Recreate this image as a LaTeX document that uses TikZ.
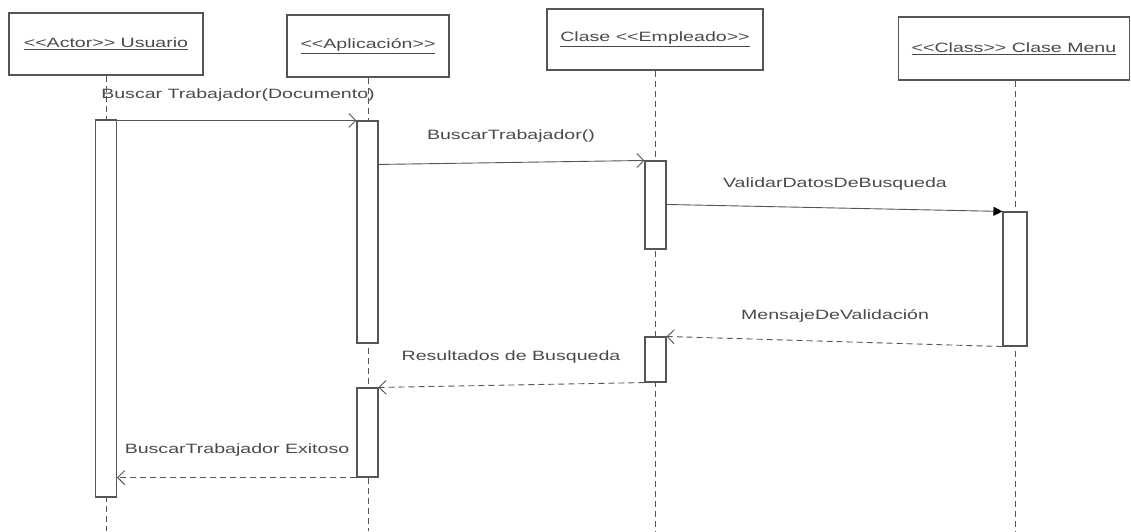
\documentclass[tikz,border=0pt]{standalone}
\usepackage{fontspec}
\setmainfont{Liberation Sans}[Ligatures=TeXOff]
\usetikzlibrary{arrows.meta}
\definecolor{LineGray}{HTML}{555555}
\definecolor{TextGray}{HTML}{4A4A4A}
\newcommand{\wtxt}[1]{\scalebox{1.45}[1]{#1}}

\begin{document}
\begin{tikzpicture}
   [x=1pt,y=1pt,
   objbox/.style={draw=LineGray,line width=1.3pt,fill=white,inner sep=0pt},
   actbox/.style={draw=LineGray,line width=1.1pt,fill=white,inner sep=0pt,minimum width=21pt},
   lifeline/.style={LineGray,line width=0.9pt,dash pattern=on 6pt off 4pt},
   call/.style={-{Straight Barb[length=7pt,width=14pt]},LineGray,line width=0.9pt},
   sync/.style={-{Triangle[length=9pt,width=9pt,color=black]},LineGray,line width=0.9pt},
   reply/.style={-{Straight Barb[length=7pt,width=14pt]},LineGray,line width=0.9pt,dash pattern=on 6pt off 4pt},
   msg/.style={text=TextGray,font=\fontsize{13.5}{16}\selectfont,inner sep=0pt}]
    \useasboundingbox (0,0) rectangle (1131,-531);
    % objetos
    \node[objbox,minimum width=194,minimum height=62,msg] (usr) at (106,-44) {\wtxt{\underline{<<Actor>> Usuario}}};
    \node[objbox,minimum width=162,minimum height=62,msg] (app) at (368,-46) {\wtxt{\underline{<<Aplicación>>}}};
    \node[objbox,minimum width=216,minimum height=61,msg] (emp) at (655,-39.5) {\wtxt{\underline{Clase <<Empleado>>}}};
    \node[objbox,minimum width=231,minimum height=63,msg] (menu) at (1014,-48.5) {\wtxt{\underline{<<Class>> Clase Menu}}};
    % lineas de vida
    \coordinate (usrend) at (106,-531);
    \coordinate (append) at (368,-531);
    \coordinate (empend) at (655.5,-531);
    \coordinate (menuend) at (1015,-531);
    \draw[lifeline] (usr.south -| usrend) -- (usrend);
    \draw[lifeline] (app.south -| append) -- (append);
    \draw[lifeline] (emp.south -| empend) -- (empend);
    \draw[lifeline] (menu.south -| menuend) -- (menuend);
    % activaciones
    \node[actbox,minimum width=21,minimum height=377] (usract) at (106,-308.5) {};
    \node[actbox,minimum width=21,minimum height=222] (appact) at (367.5,-232) {};
    \node[actbox,minimum width=21,minimum height=89] (appret) at (367.5,-432.5) {};
    \node[actbox,minimum width=21,minimum height=88] (empact) at (655.5,-205) {};
    \node[actbox,minimum width=21,minimum height=45] (empret) at (655.5,-359.5) {};
    \node[actbox,minimum width=24,minimum height=134] (menuact) at (1015,-279) {};
    % mensajes
    \draw[call] ([yshift=-1]usract.north east) -- (appact.north west);
    \node[msg] (m1) at (238,-95) {\wtxt{Buscar Trabajador(Documento)}};
    \draw[call] ([yshift=-44]appact.north east) -- (empact.north west);
    \node[msg] (m2) at (511,-136) {\wtxt{BuscarTrabajador()}};
    \draw[sync] ([yshift=-44]empact.north east) -- (menuact.north west);
    \node[msg] (m3) at (835,-184) {\wtxt{ValidarDatosDeBusqueda}};
    \draw[reply] (menuact.south west) -- (empret.north east);
    \node[msg] (m4) at (835,-316) {\wtxt{MensajeDeValidación}};
    \draw[reply] (empret.south west) -- (appret.north east);
    \node[msg] (m5) at (511,-357) {\wtxt{Resultados de Busqueda}};
    \draw[reply] (appret.south west) -- ([yshift=20]usract.south east);
    \node[msg] (m6) at (237,-450) {\wtxt{BuscarTrabajador Exitoso}};
    \end{tikzpicture}
\end{document}
